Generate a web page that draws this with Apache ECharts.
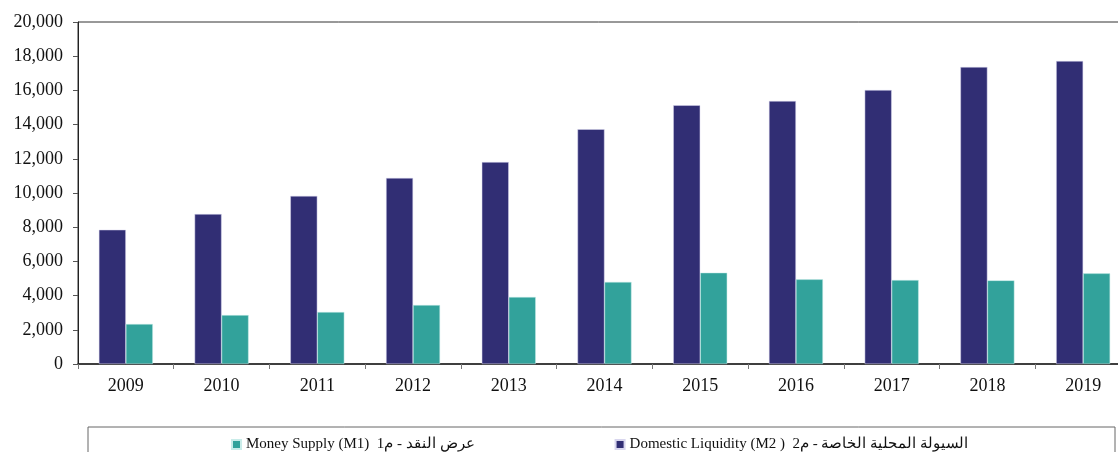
<!DOCTYPE html>
<html>
<head>
<meta charset="utf-8">
<script src="https://cdn.jsdelivr.net/npm/echarts@6/dist/echarts.min.js"></script>
<style>
  html, body { margin: 0; padding: 0; background: #fff; }
  #main { width: 1118px; height: 452px; }
</style>
</head>
<body>
<div id="main"></div>
<script>
// data
var years = ["2009", "2010", "2011", "2012", "2013", "2014", "2015", "2016", "2017", "2018", "2019"];
var m2 = [7850, 8770, 9830, 10880, 11810, 13730, 15130, 15380, 16020, 17370, 17720];
var m1 = [2340, 2860, 3040, 3450, 3920, 4800, 5340, 4950, 4910, 4890, 5300];
var yTicks = [0, 2000, 4000, 6000, 8000, 10000, 12000, 14000, 16000, 18000, 20000];

var nameM1 = "Money Supply (M1)  عرض النقد - م1";
var nameM2 = "Domestic Liquidity (M2 )  السيولة المحلية الخاصة - م2";

var chart = echarts.init(document.getElementById("main"));
var option = {
  animation: false,
  backgroundColor: "#fff",
  textStyle: { fontFamily: "Liberation Serif" },
  grid: {
    left: 78, width: 1053, top: 22, bottom: 88,
    outerBoundsMode: "none",
    show: true, borderColor: "#333", borderWidth: 1
  },
  graphic: [
    {
      type: "rect",
      shape: { x: 88, y: 427, width: 1027, height: 40 },
      style: { fill: "none", stroke: "#666", lineWidth: 1 }
    }
  ],
  legend: {
    data: [nameM1, nameM2],
    left: 226, top: 432,
    itemWidth: 9, itemHeight: 9, itemGap: 140,
    icon: "rect",
    textStyle: { fontFamily: "Liberation Serif", fontSize: 15, color: "#111" }
  },
  xAxis: {
    type: "category",
    data: years,
    axisLine: { lineStyle: { color: "#222", width: 1.5 } },
    axisTick: { show: true, alignWithLabel: false, length: 5, lineStyle: { color: "#777" } },
    axisLabel: { color: "#111", fontSize: 18, margin: 13, fontFamily: "Liberation Serif" }
  },
  yAxis: {
    type: "value",
    min: yTicks[0], max: yTicks[yTicks.length - 1], interval: 2000,
    axisLine: { show: true, lineStyle: { color: "#222" } },
    axisTick: { show: true, length: 5, lineStyle: { color: "#555" } },
    splitLine: { show: false },
    axisLabel: {
      color: "#111", fontSize: 18, margin: 15, fontFamily: "Liberation Serif",
      formatter: function (v) { return v.toLocaleString("en-US"); }
    }
  },
  series: [
    {
      name: nameM2, type: "bar", data: m2,
      barWidth: 27, barGap: "0%",
      itemStyle: { color: "#312e74", borderColor: "#d8d6ee", borderWidth: 0.5 }
    },
    {
      name: nameM1, type: "bar", data: m1,
      barWidth: 27,
      itemStyle: { color: "#32a29b", borderColor: "#c9ece9", borderWidth: 0.5 }
    }
  ]
};
chart.setOption(option);
</script>
</body>
</html>
